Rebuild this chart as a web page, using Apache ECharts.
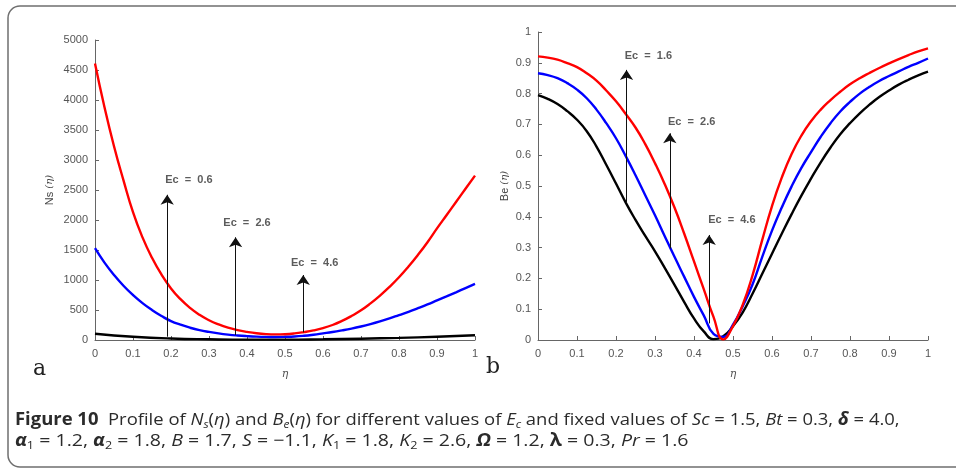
<!DOCTYPE html>
<html>
<head>
<meta charset="utf-8">
<script src="https://cdn.jsdelivr.net/npm/echarts@6/dist/echarts.min.js"></script>
<style>
  html, body { margin: 0; padding: 0; background: #fff; }
  #wrap { position: relative; width: 956px; height: 471px; overflow: hidden; }
  #chart { position: absolute; left: 0; top: 0; width: 956px; height: 471px; }
  .cap { position: absolute; left: 15px; white-space: nowrap; font-family: "Open Sans", "Liberation Sans", sans-serif;
         font-size: 17px; color: #2b2b2b; transform-origin: 0 0; line-height: 1; }
  .cap sub { font-size: 11px; vertical-align: -3px; line-height: 0; }
  .cap b.fig { font-weight: 700; }
</style>
</head>
<body>
<div id="wrap">
  <div id="chart"></div>
  <div class="cap" id="cap1" style="top:410px"><b class="fig">Figure 10</b>&nbsp; Profile of <i>N<sub>s</sub></i>(<i>η</i>) and <i>B<sub>e</sub></i>(<i>η</i>) for different values of <i>E<sub>c</sub></i> and fixed values of <i>Sc</i> = 1.5, <i>Bt</i> = 0.3, <b><i>δ</i></b> = 4.0,</div>
  <div class="cap" id="cap2" style="top:431px"><b><i>α</i></b><sub>1</sub> = 1.2, <b><i>α</i></b><sub>2</sub> = 1.8, <i>B</i> = 1.7, <i>S</i> = −1.1, <i>K</i><sub>1</sub> = 1.8, <i>K</i><sub>2</sub> = 2.6, <b><i>Ω</i></b> = 1.2, <b>λ</b> = 0.3, <i>Pr</i> = 1.6</div>
</div>
<script>
// η grid shared by the sampled curves (step 0.025)
const eta = [0,0.025,0.05,0.075,0.1,0.125,0.15,0.175,0.2,0.225,0.25,0.275,0.3,0.325,0.35,0.375,0.4,0.425,0.45,0.475,0.5,0.525,0.55,0.575,0.6,0.625,0.65,0.675,0.7,0.725,0.75,0.775,0.8,0.825,0.85,0.875,0.9,0.925,0.95,0.975,1];

// ---- panel (a): entropy generation Ns(η) ----
const nsRed = [4610,3880,3230,2660,2130,1710,1370,1090,860,680,535,420,330,260,205,165,135,112,98,93,97,110,132,160,198,250,318,400,495,610,740,885,1045,1225,1420,1630,1860,2080,2300,2520,2740];
const nsBlue = [1530,1290,1085,905,750,615,500,400,315,255,205,165,135,110,90,75,64,56,52,51,53,58,70,88,110,133,160,190,225,265,310,360,415,470,530,593,660,727,795,865,935];
const etaCoarse = [0,0.1,0.2,0.3,0.4,0.5,0.6,0.7,0.8,0.9,1];
const nsBlack = [105,55,25,12,6,6,12,22,36,55,80];

// arrows: [η, from, to] and their labels [η, y, text]
const nsArrows = [[0.19,55,2420],[0.37,83,1711],[0.548,128,1083]];
const nsLabels = [[0.247,2667,'Ec  =  0.6'],[0.4,1944,'Ec  =  2.6'],[0.578,1289,'Ec  =  4.6']];

// ---- panel (b): Bejan number Be(η) ----
const beRed = [0.921,0.917,0.91,0.899,0.886,0.866,0.842,0.81,0.775,0.734,0.69,0.636,0.574,0.506,0.43,0.345,0.255,0.165,0.075,0.002,0.045,0.115,0.21,0.325,0.435,0.527,0.603,0.663,0.71,0.748,0.779,0.806,0.83,0.85,0.867,0.883,0.898,0.912,0.925,0.937,0.947];
const beBlue = [0.866,0.86,0.85,0.834,0.813,0.785,0.748,0.704,0.655,0.597,0.535,0.47,0.405,0.337,0.27,0.205,0.14,0.08,0.02,0.01,0.05,0.11,0.18,0.27,0.355,0.43,0.498,0.558,0.61,0.66,0.704,0.742,0.773,0.8,0.822,0.841,0.857,0.872,0.887,0.9,0.914];
const beBlack = [0.795,0.783,0.766,0.743,0.715,0.678,0.628,0.569,0.508,0.446,0.39,0.338,0.288,0.234,0.179,0.123,0.07,0.028,0.003,0.012,0.045,0.09,0.15,0.215,0.28,0.345,0.408,0.468,0.524,0.577,0.625,0.668,0.704,0.736,0.764,0.789,0.81,0.829,0.845,0.859,0.871];

const beArrows = [[0.227,0.444,0.877],[0.338,0.297,0.671],[0.439,0.054,0.341]];
const beLabels = [[0.283,0.923,'Ec  =  1.6'],[0.394,0.709,'Ec  =  2.6'],[0.497,0.39,'Ec  =  4.6']];

const tickFont = { fontFamily: 'Liberation Sans, Arial, sans-serif', fontSize: 11, color: '#555' };
const axisCol = '#666';

function xAxisCfg(idx) {
  return {
    type: 'value', gridIndex: idx, min: 0, max: 1, interval: 0.1,
    name: 'η', nameLocation: 'middle', nameGap: 29,
    nameTextStyle: { fontFamily: 'DejaVu Serif, serif', fontStyle: 'italic', fontSize: 11, color: '#555' },
    axisLine: { lineStyle: { color: axisCol, width: 1 } },
    axisTick: { inside: true, length: 4, lineStyle: { color: axisCol } },
    axisLabel: Object.assign({ margin: 8, formatter: v => String(+v.toFixed(1)) }, tickFont),
    splitLine: { show: false }
  };
}
function yAxisCfg(idx, max, interval, name, gap) {
  return {
    type: 'value', gridIndex: idx, min: 0, max: max, interval: interval,
    name: name, nameLocation: 'middle', nameGap: gap, nameRotate: 90,
    nameTextStyle: {
      fontFamily: 'Liberation Sans, Arial, sans-serif', fontSize: 11, color: '#444',
      rich: { e: { fontFamily: 'DejaVu Serif, serif', fontStyle: 'italic', fontSize: 10, color: '#444' } }
    },
    axisLine: { show: true, lineStyle: { color: axisCol, width: 1 } },
    axisTick: { show: true, inside: true, length: 4, lineStyle: { color: axisCol } },
    axisLabel: Object.assign({ margin: 7, formatter: v => String(+v.toFixed(1)) }, tickFont),
    splitLine: { show: false }
  };
}

function pairs(xs, ys) { return xs.map((x, i) => [x, ys[i]]); }
function curve(xs, ys, color, idx) {
  return {
    type: 'line', xAxisIndex: idx, yAxisIndex: idx, data: pairs(xs, ys),
    showSymbol: false, smooth: 0.5,
    lineStyle: { color: color, width: 2.4 }, silent: true, z: 3
  };
}
function arrows(list, idx) {
  return {
    type: 'lines', coordinateSystem: 'cartesian2d', xAxisIndex: idx, yAxisIndex: idx,
    symbol: ['none', 'arrow'], symbolSize: [0, 10],
    lineStyle: { color: '#111', width: 1, opacity: 1 }, silent: true, z: 4,
    data: list.map(a => ({ coords: [[a[0], a[1]], [a[0], a[2]]] }))
  };
}
function labels(list, idx) {
  return {
    type: 'scatter', xAxisIndex: idx, yAxisIndex: idx, symbolSize: 0, silent: true, z: 5,
    data: list.map(l => ({ value: [l[0], l[1]], name: l[2] })),
    label: {
      show: true, position: 'inside', formatter: p => p.name,
      fontFamily: 'Liberation Sans, Arial, sans-serif', fontSize: 11, fontWeight: 'bold', color: '#333'
    }
  };
}

const chart = echarts.init(document.getElementById('chart'), null, { renderer: 'canvas' });
chart.setOption({
  animation: false,
  backgroundColor: '#fff',
  grid: [
    { left: 95, right: 481, top: 40, bottom: 131 },
    { left: 538, right: 28, top: 32, bottom: 131 }
  ],
  xAxis: [xAxisCfg(0), xAxisCfg(1)],
  yAxis: [
    yAxisCfg(0, 5000, 500, 'Ns {e|(η)}', 40),
    yAxisCfg(1, 1, 0.1, 'Be {e|(η)}', 28)
  ],
  graphic: [
    { type: 'rect', shape: { x: 8, y: 6, width: 970, height: 461, r: 12 },
      style: { fill: 'none', stroke: '#6f6f6f', lineWidth: 1.5 }, silent: true },
    { type: 'text', left: 33, top: 358,
      style: { text: 'a', font: '22px "DejaVu Serif", "Liberation Serif", serif', fill: '#222' } },
    { type: 'text', left: 486, top: 356,
      style: { text: 'b', font: '22px "DejaVu Serif", "Liberation Serif", serif', fill: '#222' } }
  ],
  series: [
    curve(etaCoarse, nsBlack, '#000000', 0), curve(eta, nsBlue, '#0000ff', 0), curve(eta, nsRed, '#ff0000', 0),
    arrows(nsArrows, 0), labels(nsLabels, 0),
    curve(eta, beBlack, '#000000', 1), curve(eta, beBlue, '#0000ff', 1), curve(eta, beRed, '#ff0000', 1),
    arrows(beArrows, 1), labels(beLabels, 1)
  ]
});

// caption lines fitted to their column width
function fit(id, w) {
  const el = document.getElementById(id);
  el.style.transform = 'scaleX(' + (w / el.scrollWidth) + ')';
}
fit('cap1', 885);
fit('cap2', 673);
</script>
</body>
</html>
